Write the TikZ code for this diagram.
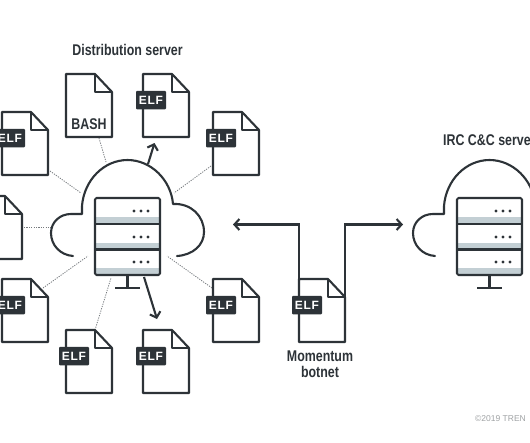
\documentclass[tikz,border=0pt]{standalone}
\usepackage{fontspec}
\setmainfont{Liberation Sans}
\newfontfamily\narrowbold[FakeStretch=0.80]{Liberation Sans Bold}
\newfontfamily\tagbold[LetterSpace=6]{Liberation Sans Bold}
\usetikzlibrary{arrows.meta}
\definecolor{ink}{HTML}{2D3338}
\definecolor{band}{HTML}{C3CFD4}
\tikzset{
  outline/.style={draw=ink,line width=2.1pt,line join=round},
  thinline/.style={draw=ink!65,line width=0.8pt,dash pattern=on 1.2pt off 1.2pt},
  flow/.style={draw=ink,line width=2.1pt,-{Straight Barb[length=5pt,width=11pt,line width=2.1pt]}},
  title/.style={font=\narrowbold\fontsize{15.5}{16.5}\selectfont,text=ink,align=center,inner sep=0pt},
  tagbox/.style={fill=ink,rounded corners=1pt,minimum width=30pt,minimum height=18.5pt,inner sep=0pt,
    text=white,font=\tagbold\fontsize{12}{12}\selectfont},
  bashtext/.style={text=ink,font=\narrowbold\fontsize{15.5}{15.5}\selectfont,inner sep=0pt},
}
% #1 name, #2 x, #3 y
\newcommand{\docshape}[3]{%
  \begin{scope}[shift={(#2,#3)}]
    \fill[white] (0,0) -- (29,0) -- (46,18) -- (46,63) -- (0,63) -- cycle;
    \draw[outline] (0,0) -- (29,0) -- (46,18) -- (46,63) -- (0,63) -- cycle;
    \draw[outline] (29,0) -- (29,18) -- (46,18);
    \coordinate (#1) at (23,31);
  \end{scope}}
\newcommand{\elfdoc}[3]{%
  \docshape{#1}{#2}{#3}%
  \node[tagbox] (#1tag) at (#2+8,#3+26) {ELF};}
% #1 name prefix, #2 x shift
\newcommand{\servercloud}[2]{%
  \begin{scope}[shift={(#2,0)}]
    \draw[outline,line cap=round]
      (73,256) .. controls (60,255) and (51,245) .. (51,233)
      .. controls (51,222) and (60,214) .. (71,214)
      -- (82,214) -- (82,206)
      .. controls (84,180) and (104,160) .. (127.5,160)
      .. controls (151,160) and (171,180) .. (173,204)
      .. controls (191,203) and (204,216) .. (204,232)
      .. controls (204,245) and (193,255) .. (177,256);
    \fill[white] (95,198) rectangle (160,275);
    \fill[band] (95,217) rectangle (160,224);
    \fill[band] (95,243) rectangle (160,249);
    \fill[band] (95,268) rectangle (160,275);
    \draw[outline,rounded corners=1.5pt] (95,198) rectangle (160,275);
    \draw[outline] (95,224) -- (160,224) (95,249.5) -- (160,249.5);
    \foreach \yy in {211,237,262}{
      \foreach \xx in {134,141,148}{\fill[ink] (\xx,\yy) circle (1.6);}}
    \draw[outline] (127.5,275) -- (127.5,288) (115,288) -- (140,288);
    \coordinate (#1) at (127.5,236);
  \end{scope}}
\begin{document}
\begin{tikzpicture}[x=1pt,y=-1pt]
\useasboundingbox (0,0) rectangle (530,442);
\clip (0,0) rectangle (530,442);
\fill[white] (0,0) rectangle (530,442);

% connector ends
\coordinate (d1a) at (99,138);   \coordinate (d1b) at (106,162);
\coordinate (d2a) at (211,166);  \coordinate (d2b) at (174,193);
\coordinate (d3a) at (50,171);   \coordinate (d3b) at (81,193);
\coordinate (d4a) at (24,227);   \coordinate (d4b) at (51,227);
\coordinate (d5a) at (43,288);   \coordinate (d5b) at (88,256);
\coordinate (d6a) at (212,288);  \coordinate (d6b) at (167,256);
\coordinate (d7a) at (95,330);   \coordinate (d7b) at (111,278);
\coordinate (a1a) at (148,164);  \coordinate (a1b) at (154.5,143);
\coordinate (a2a) at (144,277);  \coordinate (a2b) at (157,319);
\coordinate (l0) at (299,285);   \coordinate (l1) at (299,224.5); \coordinate (l2) at (233,224.5);
\coordinate (r0) at (345,297);   \coordinate (r1) at (345,224.5); \coordinate (r2) at (403,224.5);

\foreach \p/\q in {d1a/d1b,d2a/d2b,d3a/d3b,d4a/d4b,d5a/d5b,d6a/d6b,d7a/d7b}
  \draw[thinline] (\p) -- (\q);
\draw[flow] (a1a) -- (a1b);
\draw[flow] (a2a) -- (a2b);
\draw[flow] (l0) -- (l1) -- (l2);

\servercloud{cloudA}{0}
\servercloud{cloudB}{362}

\docshape{bash}{66}{74}
\node[bashtext] (bashlabel) at (89,124) {BASH};
\elfdoc{e1}{143}{74}
\elfdoc{e2}{2}{112}
\elfdoc{e3}{213}{112}
\docshape{e4}{-24}{196}
\elfdoc{e5}{2}{279}
\elfdoc{e6}{213}{279}
\elfdoc{e7}{66}{330}
\elfdoc{e8}{143}{330}
\elfdoc{e9}{299}{279}
\draw[flow] (r0) -- (r1) -- (r2);

\node[title] (t1) at (127.5,50) {Distribution server};
\node[title,anchor=west] (t2) at (443,140) {IRC C\&C server};
\node[title] (t3) at (320,364) {Momentum\\botnet};
\node[anchor=west,inner sep=0pt,text=ink!45,font=\fontsize{8.5}{8.5}\selectfont] (t4) at (475,419) {©2019 TREN};
\end{tikzpicture}
\end{document}
